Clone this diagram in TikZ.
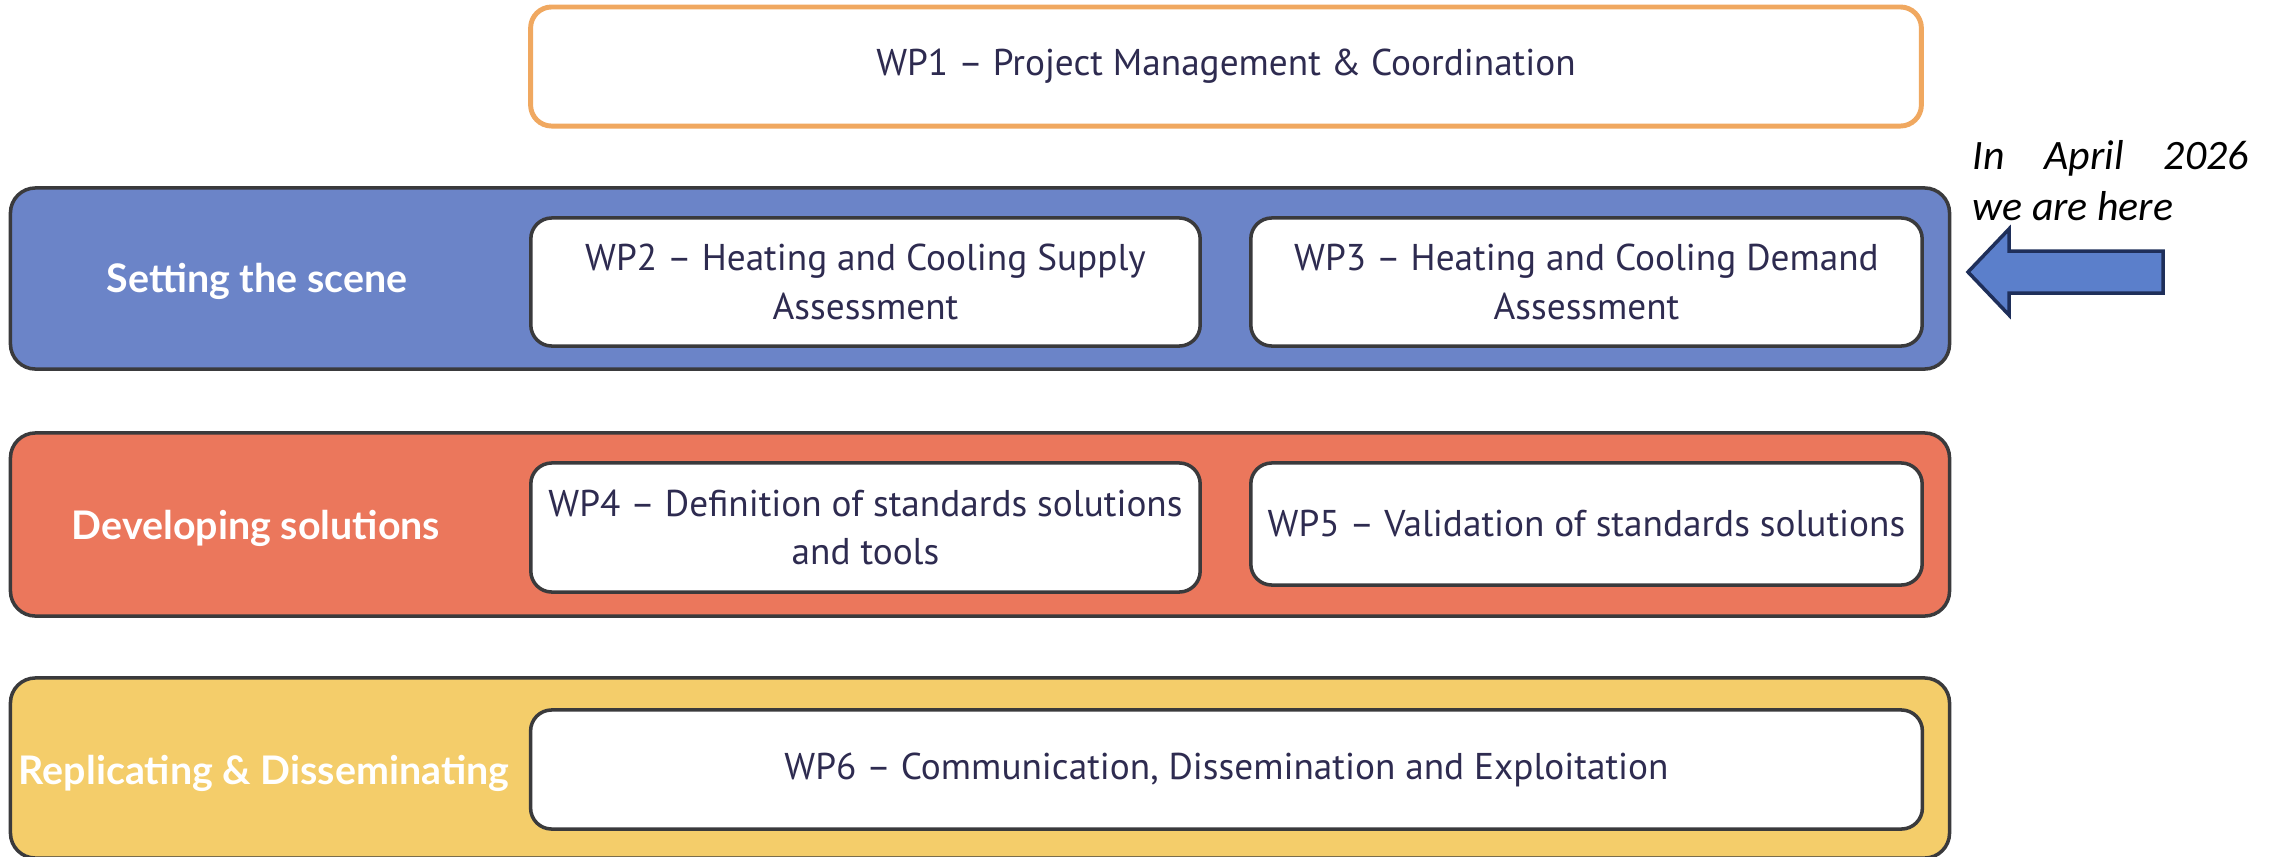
\documentclass[tikz,border=0pt]{standalone}
\usepackage{fontspec}
\setmainfont{PT Sans}
\newfontfamily\bandfont{Lato}
\newfontfamily\notefont{Carlito}
\usetikzlibrary{positioning}

\definecolor{wpnavy}{HTML}{2E2B50}
\definecolor{wporange}{HTML}{F0A860}
\definecolor{bandline}{HTML}{3A3A3C}
\definecolor{bandblue}{HTML}{6B84C8}
\definecolor{bandred}{HTML}{EB775C}
\definecolor{bandyellow}{HTML}{F4CD6A}
\definecolor{arrowblue}{HTML}{5B7FCB}
\definecolor{arrowline}{HTML}{1F2F5A}

\tikzset{
    band/.style={draw=bandline, line width=1pt, rounded corners=0.25cm,
        minimum width=19.38cm, inner sep=0pt},
    wpbox/.style={draw=bandline, fill=white, line width=1pt, rounded corners=0.21cm,
        text=wpnavy, align=center, inner sep=0pt,
        font=\fontsize{10.6}{13.9}\selectfont},
    bandlabel/.style={text=white, font=\bandfont\bfseries\fontsize{11.2}{13}\selectfont},
}

\begin{document}
\begin{tikzpicture}[x=0.01cm, y=-0.01cm]
        \useasboundingbox (0,0) rectangle (2271,857);
        % coordination on top
        \node[wpbox, draw=wporange, line width=1.4pt, minimum width=13.9cm, minimum height=1.19cm] (wp1) at (1226,66.5) {WP1 – Project Management \& Coordination};
        % setting the scene
        \node[band, fill=bandblue, minimum height=1.81cm] (scene) at (980,278.5) {};
        \node[bandlabel] (scenelabel) at (257,281) {Setting the scene};
        \node[wpbox, minimum width=6.69cm, minimum height=1.28cm] (wp2) at (865.5,282) {WP2 – Heating and Cooling Supply\\Assessment};
        \node[wpbox, minimum width=6.71cm, minimum height=1.28cm] (wp3) at (1586.5,282) {WP3 – Heating and Cooling Demand\\Assessment};
        % developing solutions
        \node[band, fill=bandred, minimum height=1.83cm] (solutions) at (980,524.5) {};
        \node[bandlabel] (solutionslabel) at (256,528) {Developing solutions};
        \node[wpbox, minimum width=6.69cm, minimum height=1.29cm] (wp4) at (865.5,527.5) {WP4 – Definition of standards solutions\\and tools};
        \node[wpbox, minimum width=6.71cm, minimum height=1.22cm] (wp5) at (1586.5,524) {WP5 – Validation of standards solutions};
        % replicating
        \node[band, fill=bandyellow, minimum height=1.8cm] (replicating) at (980,768) {};
        \node[bandlabel] (replicatinglabel) at (264,773) {Replicating \& Disseminating};
        \node[wpbox, minimum width=13.91cm, minimum height=1.19cm] (wp6) at (1226.5,769.5) {WP6 – Communication, Dissemination and Exploitation};
        % where we are
        \draw[fill=arrowblue, draw=arrowline, line width=1pt] (1968,272) -- (2009,229) -- (2009,251) -- (2163,251) -- (2163,293) -- (2009,293) -- (2009,315) -- cycle;
        \node[anchor=north west, inner sep=0pt, align=left, font=\notefont\itshape\fontsize{11.9}{14.4}\selectfont] (note) at (1972,140) {\makebox[2.76cm][s]{In April 2026}\\we are here};
\end{tikzpicture}
\end{document}
